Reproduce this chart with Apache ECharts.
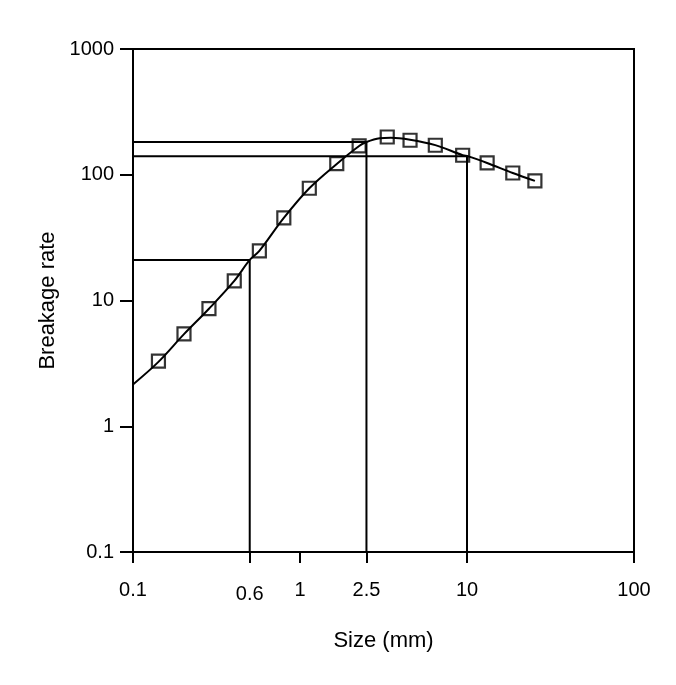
<!DOCTYPE html>
<html>
<head>
<meta charset="utf-8">
<script src="https://cdn.jsdelivr.net/npm/echarts@6/dist/echarts.min.js"></script>
<style>
html,body{margin:0;padding:0;background:#fff;}
#chart{width:676px;height:685px;}
</style>
</head>
<body>
<div id="chart"></div>
<script>
// Measured data (sizes in mm, breakage rate)
var pointSize = [0.142, 0.202, 0.285, 0.404, 0.571, 0.80, 1.137, 1.66, 2.26, 3.33, 4.56, 6.46, 9.42, 13.2, 18.8, 25.5];
var pointRate = [3.29, 5.42, 8.63, 14.3, 24.8, 45.4, 78.1, 122.8, 169.5, 199.7, 188, 171.7, 142.9, 124.1, 103.3, 89.3];

// Fitted curve
var curveSize = [0.1, 0.142, 0.202, 0.285, 0.404, 0.5, 0.571, 0.80, 1.137, 1.66, 2.26, 2.5, 3.0, 3.5, 4.56, 6.46, 9.42, 10.2, 13.2, 18.8, 25.5];
var curveRate = [2.15, 3.25, 5.4, 8.6, 14.3, 21, 24.8, 45.4, 78.1, 122, 169.5, 182, 195, 197, 190, 172, 143, 140, 124.1, 103.3, 89.3];

// Reference lines (drop lines from the curve)
var refSize = [0.5, 2.5, 10];
var refRate = [21, 182, 140];

// Tick positions and labels
var xTickValues = [0.1, 0.5, 1, 2.5, 10, 100];
var xTickLabels = ['0.1', '0.6', '1', '2.5', '10', '100'];
var yTickLabels = ['0.1', '1', '10', '100', '1000'];

var L = Math.log10;
var X_MIN = 0.1, X_MAX = 100, Y_MIN = 0.1, Y_MAX = 1000;

var font = '"Liberation Sans", Arial, Helvetica, sans-serif';

var series = [];
refSize.forEach(function (x, i) {
  series.push({
    type: 'line',
    data: [[L(X_MIN), L(refRate[i])], [L(x), L(refRate[i])], [L(x), L(Y_MIN)]],
    symbol: 'none',
    lineStyle: {color: '#000', width: 2},
    silent: true,
    z: 2
  });
});
series.push({
  type: 'line',
  data: curveSize.map(function (x, i) { return [L(x), L(curveRate[i])]; }),
  symbol: 'none',
  smooth: 0.35,
  lineStyle: {color: '#000', width: 2},
  z: 3
});
series.push({
  type: 'scatter',
  data: pointSize.map(function (x, i) { return [L(x), L(pointRate[i])]; }),
  symbol: 'rect',
  symbolSize: 13,
  itemStyle: {color: 'rgba(0,0,0,0)', borderColor: '#000', borderWidth: 2.2},
  z: 4
});

var xCustom = xTickValues.map(L);

var chart = echarts.init(document.getElementById('chart'), null, {renderer: 'canvas'});
chart.setOption({
  animation: false,
  backgroundColor: '#fff',
  grid: {left: 133, right: 42, top: 49, bottom: 133, show: true, borderColor: '#000', borderWidth: 2, backgroundColor: 'transparent'},
  xAxis: {
    type: 'value',
    min: L(X_MIN), max: L(X_MAX),
    name: 'Size (mm)',
    nameLocation: 'middle',
    nameGap: 78,
    nameTextStyle: {color: '#000', fontSize: 22, fontFamily: font},
    axisLine: {show: true, onZero: false, lineStyle: {color: '#000', width: 2}},
    axisTick: {show: true, length: 11, inside: false, customValues: xCustom, lineStyle: {color: '#000', width: 2}},
    axisLabel: {
      show: true, margin: 28, color: '#000', fontSize: 20, fontFamily: font,
      customValues: xCustom,
      formatter: function (v) {
        var best = 0, bd = Infinity;
        xCustom.forEach(function (c, i) { var d = Math.abs(c - v); if (d < bd) { bd = d; best = i; } });
        return xTickLabels[best] === '0.6' ? '{low|' + xTickLabels[best] + '}' : xTickLabels[best];
      },
      rich: {low: {fontSize: 20, fontFamily: font, color: '#000', padding: [4, 0, 0, 0]}}
    },
    splitLine: {show: false}
  },
  yAxis: {
    type: 'value',
    min: L(Y_MIN), max: L(Y_MAX), interval: 1,
    name: 'Breakage rate',
    nameLocation: 'middle',
    nameGap: 74,
    nameTextStyle: {color: '#000', fontSize: 22, fontFamily: font},
    axisLine: {show: true, onZero: false, lineStyle: {color: '#000', width: 2}},
    axisTick: {show: true, length: 13, lineStyle: {color: '#000', width: 2}},
    axisLabel: {
      show: true, margin: 19, color: '#000', fontSize: 20, fontFamily: font,
      formatter: function (v) {
        var i = Math.round(v - L(Y_MIN));
        return yTickLabels[i];
      }
    },
    splitLine: {show: false}
  },
  series: series
});
</script>
</body>
</html>
